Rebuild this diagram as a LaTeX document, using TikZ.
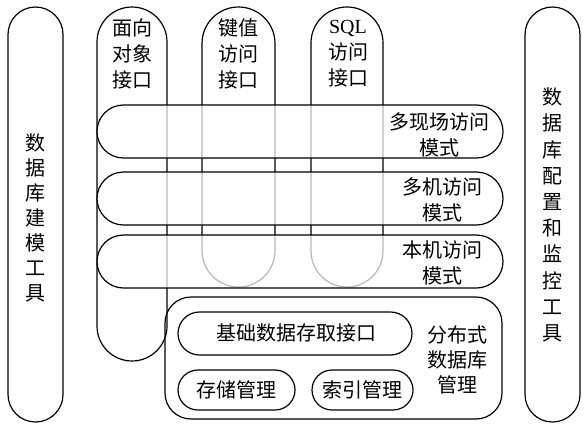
\documentclass[tikz,border=0pt]{standalone}
\usepackage{fontspec}
\setmainfont{Noto Sans CJK SC}
\newfontfamily\latinserif{Liberation Serif}
\tikzset{
  pill/.style={draw, line width=1.2pt, inner sep=0pt},
  rowpill/.style={pill, fill=white, fill opacity=0.72, text opacity=1},
  lbl/.style={align=center, inner sep=0pt, font=\fontsize{20}{26}\selectfont},
  vlbl/.style={align=center, inner sep=0pt, font=\fontsize{20}{25}\selectfont},
  vlblb/.style={align=center, inner sep=0pt, font=\fontsize{20}{26.2}\selectfont},
}
\begin{document}
\begin{tikzpicture}[x=1pt,y=-1pt]
\useasboundingbox (0,0) rectangle (583,424);
% side tools
\node[pill, minimum width=55pt, minimum height=415pt, rounded corners=27.5pt] (ltool) at (35.5,214.5) {};
\node[pill, minimum width=55pt, minimum height=415pt, rounded corners=27.5pt] (rtool) at (552.5,214.5) {};
% vertical interface pills
\node[pill, minimum width=70pt, minimum height=354pt, rounded corners=35pt] (obj) at (132,184) {};
\node[pill, minimum width=73pt, minimum height=280pt, rounded corners=36.5pt] (kv) at (238.5,147) {};
\node[pill, minimum width=72pt, minimum height=280pt, rounded corners=36pt] (sql) at (347,147) {};
% horizontal access-mode pills
\node[rowpill, minimum width=406pt, minimum height=53pt, rounded corners=26.5pt] (row1) at (300,131.5) {};
\node[rowpill, minimum width=406pt, minimum height=53pt, rounded corners=26.5pt] (row2) at (300,198.5) {};
\node[rowpill, minimum width=406pt, minimum height=53pt, rounded corners=26.5pt] (row3) at (300,261.5) {};
% distributed database management
\node[pill, minimum width=337pt, minimum height=122pt, rounded corners=26pt] (dist) at (333.5,358) {};
\node[pill, minimum width=234pt, minimum height=43pt, rounded corners=21.5pt] (basic) at (295,333.5) {};
\node[pill, minimum width=117pt, minimum height=40pt, rounded corners=20pt] (store) at (236.5,390) {};
\node[pill, minimum width=101pt, minimum height=40pt, rounded corners=20pt] (index) at (362.5,390) {};
% labels
\node[vlbl] (ltooltext) at (35,218) {数\\据\\库\\建\\模\\工\\具};
\node[vlblb] (rtooltext) at (552,215) {数\\据\\库\\配\\置\\和\\监\\控\\工\\具};
\node[lbl] (objtext) at (132,54) {面向\\对象\\接口};
\node[lbl] (kvtext) at (238,54) {键值\\访问\\接口};
\node[lbl] (sqltext) at (348,54) {{\latinserif SQL}\\访问\\接口};
\node[lbl] (row1text) at (439,134.5) {多现场访问\\模式};
\node[lbl] (row2text) at (442,200) {多机访问\\模式};
\node[lbl] (row3text) at (442,262.5) {本机访问\\模式};
\node[lbl] (basictext) at (296,333) {基础数据存取接口};
\node[lbl] (storetext) at (236,390) {存储管理};
\node[lbl] (indextext) at (362,390) {索引管理};
\node[lbl, font=\fontsize{20}{25}\selectfont] (disttext) at (457,360) {分布式\\数据库\\管理};
\end{tikzpicture}
\end{document}
